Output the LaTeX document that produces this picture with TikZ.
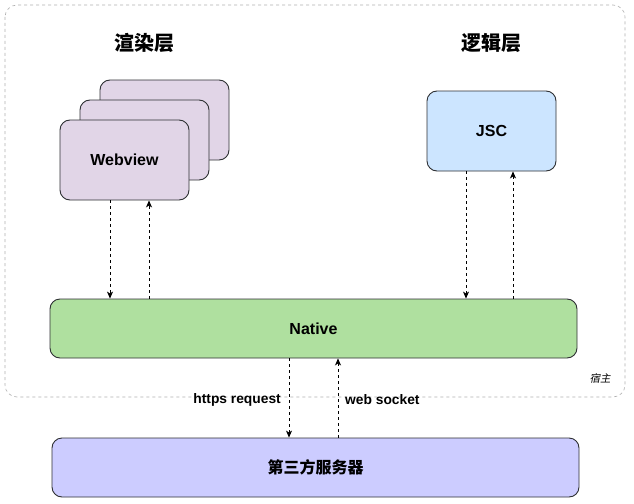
\documentclass[tikz,border=0pt]{standalone}
\usepackage{fontspec}
\setmainfont{Liberation Sans}
\newfontfamily\cjk{Noto Sans CJK SC}
\newfontfamily\cjkit{Noto Sans CJK SC}[FakeSlant=0.2]
\usetikzlibrary{arrows.meta}
\definecolor{wvfill}{HTML}{E1D5E7}
\definecolor{jscfill}{HTML}{CCE5FF}
\definecolor{natfill}{HTML}{AFE09F}
\definecolor{srvfill}{HTML}{CCCCFF}
\definecolor{edge}{HTML}{2E3033}
\definecolor{hostline}{HTML}{B0B0B0}
\tikzset{
  box/.style={draw=edge, line width=0.9pt, rounded corners=10pt, inner sep=0pt, font=\fontsize{16}{19}\selectfont\bfseries},
  title/.style={font=\fontsize{20}{24}\selectfont\cjk\bfseries},
  link/.style={draw=black, line width=0.7pt, dash pattern=on 3pt off 3pt, -{Stealth[length=7pt,width=6pt,inset=2pt]}},
  lbl/.style={font=\fontsize{13.8}{16}\selectfont\bfseries, inner sep=0pt},
}
\begin{document}
\begin{tikzpicture}[x=1pt,y=-1pt]
\useasboundingbox (0,0) rectangle (634,503);
\fill[white] (0,0) rectangle (634,503);
% host boundary
\draw[hostline, line width=0.6pt, dash pattern=on 3pt off 3pt, rounded corners=12pt] (5,5) rectangle (625,397);
\node[font=\fontsize{10.5}{12}\selectfont\cjkit, anchor=center] (host) at (600,378) {宿主};
% titles
\node[title] (t1) at (144,43) {渲染层};
\node[title] (t2) at (491,43) {逻辑层};
% webview stack
\node[box, fill=wvfill, minimum width=129pt, minimum height=80pt] (wv3) at (164.5,120) {};
\node[box, fill=wvfill, minimum width=129pt, minimum height=80pt] (wv2) at (144.5,140) {};
\node[box, fill=wvfill, minimum width=129pt, minimum height=80pt] (wv1) at (124.5,160) {Webview};
% JSC
\node[box, fill=jscfill, minimum width=129pt, minimum height=80pt] (jsc) at (491.5,131) {JSC};
% Native
\node[box, fill=natfill, minimum width=527pt, minimum height=59pt] (native) at (313.5,328.5) {Native};
% server
\node[box, fill=srvfill, minimum width=527pt, minimum height=59pt] (srv) at (315.5,467.5) {\cjk\bfseries 第三方服务器};
% connectors
\coordinate (c1) at (110,0);
\coordinate (c2) at (149,0);
\coordinate (c3) at (466,0);
\coordinate (c4) at (513,0);
\coordinate (c5) at (289,0);
\coordinate (c6) at (338,0);
\draw[link] (c1 |- wv1.south) -- (c1 |- native.north);
\draw[link] (c2 |- native.north) -- (c2 |- wv1.south);
\draw[link] (c3 |- jsc.south) -- (c3 |- native.north);
\draw[link] (c4 |- native.north) -- (c4 |- jsc.south);
\draw[link] (c5 |- native.south) -- (c5 |- srv.north);
\draw[link] (c6 |- srv.north) -- (c6 |- native.south);
\node[lbl, anchor=east] (l1) at (281,400) {https request};
\node[lbl, anchor=west] (l2) at (345,400) {web socket};
\end{tikzpicture}
\end{document}
